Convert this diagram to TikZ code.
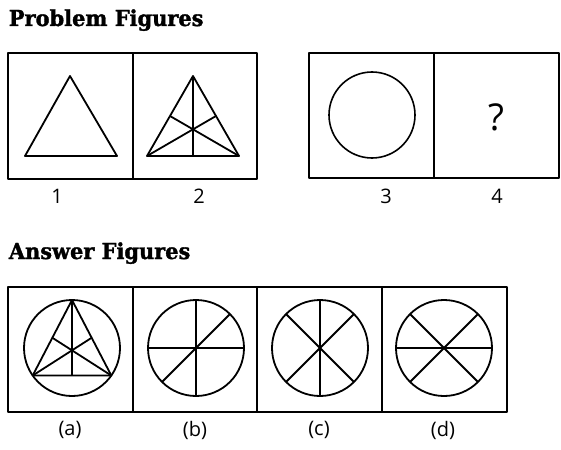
\documentclass[tikz,border=0pt]{standalone}
\usepackage{fontspec}
\setmainfont{Open Sans}
\newfontfamily\slabfont[FakeStretch=0.95,FakeBold=1.5]{DejaVu Serif}
\usetikzlibrary{calc}
\tikzstyle{frame}=[rectangle, fill=none,
                   draw=black,
                   line width=1.9pt]
\tikzstyle{ring}=[circle, draw, inner sep=0pt, outer sep=0pt,
                  minimum size=96pt]

\begin{document}
\begin{tikzpicture}[x=1pt,y=-1pt,line width=1.8pt,line join=round]
  \tikzstyle{heading}=[anchor=base west, inner sep=0pt,
                       font=\slabfont\bfseries\fontsize{22}{22}\selectfont]
  \tikzstyle{lables}=[font=\fontsize{20}{20}\selectfont]
  \useasboundingbox (0,0) rectangle (561,449);
  % titles
  \node[heading] (problemtitle) at (8,26) {Problem Figures};
  \node[heading] (answertitle) at (8,259) {Answer Figures};
  % problem figures
  \draw[frame] (8,53) rectangle (133,179);
  \draw[frame] (133,53) rectangle (257,179);
  \draw[frame] (309,53) rectangle (434,178);
  \draw[frame] (434,53) rectangle (559,178);
  \coordinate (oneapex) at (70,76);
  \coordinate (oneleft) at (25,156);
  \coordinate (oneright) at (117,156);
  \draw (oneapex) -- (oneleft) -- (oneright) -- cycle;
  \coordinate (twoapex) at (193,76);
  \coordinate (twoleft) at (147,156);
  \coordinate (tworight) at (239,156);
  \draw (twoapex) -- (twoleft) -- (tworight) -- cycle;
  \draw (twoapex) -- ($(twoleft)!0.5!(tworight)$);
  \draw (twoleft) -- ($(twoapex)!0.5!(tworight)$);
  \draw (tworight) -- ($(twoapex)!0.5!(twoleft)$);
  \node[ring, minimum size=86pt, line width=1.6pt] (threering) at (372,115) {};
  \node[font=\fontsize{37}{37}\selectfont] (missing) at (496,117) {?};
  \node[lables] (onelabel) at (57,196) {1};
  \node[lables] (twolabel) at (199,196) {2};
  \node[lables] (threelabel) at (386,196) {3};
  \node[lables] (fourlabel) at (497,196) {4};
  % answer figures
  \draw[frame] (8,287) rectangle (133,412);
  \draw[frame] (133,287) rectangle (257,412);
  \draw[frame] (257,287) rectangle (382,412);
  \draw[frame] (382,287) rectangle (507,412);
  \node[ring] (ringa) at (72,348) {};
  \node[ring] (ringb) at (196,348) {};
  \node[ring] (ringc) at (320,348) {};
  \node[ring] (ringd) at (444,348) {};
  \draw (ringa.90) -- (ringa.215) -- (ringa.325) -- cycle;
  \draw (ringa.90) -- ($(ringa.215)!0.5!(ringa.325)$);
  \draw (ringa.215) -- ($(ringa.90)!0.5!(ringa.325)$);
  \draw (ringa.325) -- ($(ringa.90)!0.5!(ringa.215)$);
  \draw (ringb.north) -- (ringb.south);
  \draw (ringb.west) -- (ringb.east);
  \draw (ringb.45) -- (ringb.225);
  \draw (ringc.north) -- (ringc.south);
  \draw (ringc.45) -- (ringc.225);
  \draw (ringc.135) -- (ringc.315);
  \draw (ringd.west) -- (ringd.east);
  \draw (ringd.45) -- (ringd.225);
  \draw (ringd.135) -- (ringd.315);
  \node[lables] (alabel) at (70,430) {(a)};
  \node[lables] (blabel) at (195,430) {(b)};
  \node[lables] (clabel) at (319,430) {(c)};
  \node[lables] (dlabel) at (443,430) {(d)};
\end{tikzpicture}
\end{document}
